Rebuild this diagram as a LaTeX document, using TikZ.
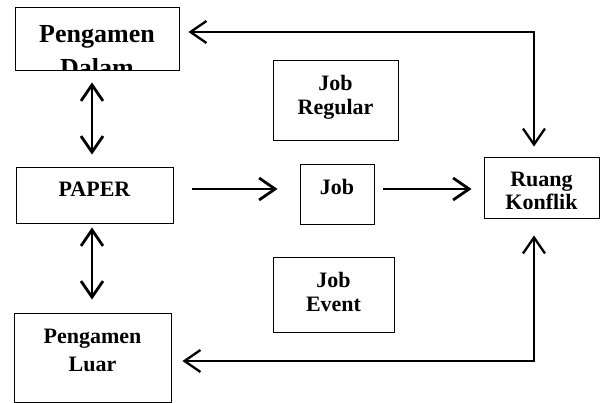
\documentclass[tikz,border=0pt]{standalone}
\usepackage{fontspec}
\setmainfont{Liberation Serif}
\usetikzlibrary{arrows.meta}
\begin{document}
\begin{tikzpicture}[x=1pt,y=-1pt,
  box/.style={draw, line width=0.9pt, inner sep=0pt},
  lbl/.style={inner sep=0pt, align=center, anchor=base, font=\bfseries\fontsize{22}{24}\selectfont},
  conn/.style={line width=2.8pt},
  >={Straight Barb[length=16pt,width=22pt]}]
\useasboundingbox (0,0) rectangle (611,403);
% boxes
\node[box, minimum width=164pt, minimum height=63pt] (dalam)   at (97,38.5) {};
\node[box, minimum width=157pt, minimum height=56pt] (paper)   at (94.5,195) {};
\node[box, minimum width=157pt, minimum height=89pt] (luar)    at (92.5,357.5) {};
\node[box, minimum width=125pt, minimum height=80pt] (regular) at (335.5,100) {};
\node[box, minimum width=74pt,  minimum height=60pt] (job)     at (337,194) {};
\node[box, minimum width=121pt, minimum height=75pt] (event)   at (333.5,294.5) {};
\node[box, minimum width=115pt, minimum height=61pt] (ruang)   at (541.5,187.5) {};
% labels (base anchor = baseline of the last line)
\begin{scope}
  \clip (dalam.south west) rectangle (dalam.north east);
  \node[lbl, font=\bfseries\fontsize{26}{34}\selectfont] (tdalam) at ([yshift=-70pt]dalam.north) {Pengamen\\Dalam};
\end{scope}
\node[lbl] (tpaper)   at ([yshift=-30pt]paper.north) {PAPER};
\node[lbl, font=\bfseries\fontsize{22}{28}\selectfont] (tluar) at ([yshift=-59pt]luar.north) {Pengamen\\Luar};
\node[lbl, font=\bfseries\fontsize{22}{23.5}\selectfont] (tregular) at ([yshift=-54.5pt]regular.north) {Job\\Regular};
\node[lbl] (tjob)     at ([yshift=-31pt]job.north) {Job};
\node[lbl, font=\bfseries\fontsize{22}{24}\selectfont] (tevent)   at ([yshift=-55pt]event.north) {Job\\Event};
\node[lbl, font=\bfseries\fontsize{22}{22.5}\selectfont] (truang) at ([yshift=-52.5pt]ruang.north) {Ruang\\Konflik};
% connectors
\draw[conn, <->, shorten <=12pt, shorten >=12pt] ([xshift=-5pt]dalam.south) -- ([xshift=-2.5pt]paper.north);
\draw[conn, <->, shorten <=4pt, shorten >=13pt] ([xshift=-2.5pt]paper.south) -- ([xshift=-0.5pt]luar.north);
\draw[conn, ->, shorten <=19pt, shorten >=22pt] ([yshift=6pt]paper.east) -- ([yshift=5pt]job.west);
\draw[conn, ->, shorten <=9pt, shorten >=12pt] ([yshift=5pt]job.east) -- ([yshift=-1.5pt]ruang.west);
\draw[conn, <->, line width=2.3pt, shorten <=10pt, shorten >=9pt] ([xshift=-7.5pt]ruang.north) |- ([yshift=6.5pt]dalam.east);
\draw[conn, <->, line width=2.3pt, shorten <=17pt, shorten >=11pt] ([xshift=-7.5pt]ruang.south) |- ([yshift=-3.5pt]luar.east);
\end{tikzpicture}
\end{document}
